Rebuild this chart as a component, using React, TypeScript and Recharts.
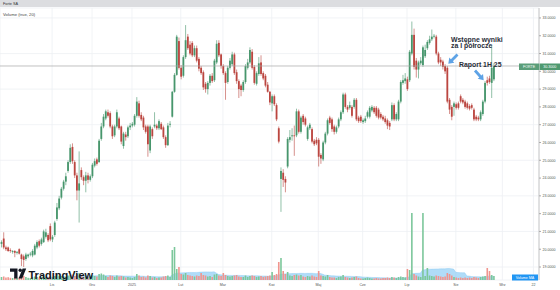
import { ComposedChart, Bar, Area, XAxis, YAxis, CartesianGrid, ReferenceLine } from 'recharts'

// daily candles [open, high, low, close], Oct 2024 – Aug 2025
const candles: [number, number, number, number][] = [
  [20.3, 20.5, 20.1, 20.4], [20.6, 20.95, 20.0, 20.1], [20.1, 20.2, 19.9, 20.0], [20.1, 20.15, 19.85, 19.9],
  [19.95, 20.05, 19.8, 19.9], [19.85, 19.95, 19.75, 19.9], [19.9, 19.95, 19.55, 19.8], [19.8, 19.9, 19.7, 19.85],
  [20.0, 20.05, 19.7, 19.75], [19.7, 19.75, 19.05, 19.45], [19.6, 19.7, 19.0, 19.4], [19.45, 19.8, 19.35, 19.7],
  [19.6, 19.75, 19.5, 19.7], [19.7, 19.85, 19.6, 19.75], [19.65, 20.0, 19.55, 19.9], [19.7, 20.3, 19.65, 20.2],
  [20.1, 20.5, 20.0, 20.4], [20.45, 20.55, 20.1, 20.2], [20.3, 20.65, 20.2, 20.55], [20.4, 21.1, 20.35, 21.0],
  [20.7, 21.15, 20.6, 20.95], [20.8, 20.9, 20.4, 20.5], [21.3, 21.45, 20.45, 20.55], [20.55, 20.8, 20.4, 20.7],
  [20.8, 21.6, 20.7, 21.5], [21.7, 22.6, 21.6, 22.35], [22.3, 23.0, 22.2, 22.85], [22.9, 23.5, 22.8, 23.4],
  [23.4, 23.9, 23.3, 23.8], [23.8, 24.3, 23.6, 24.1], [24.4, 25.0, 24.3, 24.9], [24.9, 25.9, 24.8, 25.7],
  [25.75, 25.95, 24.8, 24.95], [24.9, 25.0, 24.0, 24.15], [24.15, 24.3, 22.75, 23.3], [23.3, 25.5, 21.5, 23.7],
  [24.45, 24.6, 23.9, 24.05], [24.05, 24.15, 23.6, 23.85], [23.85, 24.35, 23.2, 24.15], [24.15, 24.3, 23.7, 23.9],
  [23.9, 24.2, 23.8, 24.1], [24.1, 24.85, 24.0, 24.75], [24.7, 25.1, 24.6, 24.95], [25.05, 25.15, 24.7, 24.8],
  [24.9, 26.2, 24.85, 26.1], [26.2, 27.1, 26.1, 26.9], [26.9, 27.6, 26.8, 27.45], [27.35, 27.85, 27.25, 27.75],
  [27.7, 27.85, 27.4, 27.5], [27.65, 27.75, 26.8, 26.9], [26.9, 27.0, 26.2, 26.35], [26.4, 27.0, 26.3, 26.9],
  [26.9, 27.85, 26.8, 27.7], [27.35, 27.45, 26.7, 26.8], [26.9, 26.95, 25.9, 26.05], [25.8, 26.6, 25.65, 26.5],
  [26.45, 26.6, 26.1, 26.3], [26.35, 26.95, 26.25, 26.85], [26.85, 27.1, 26.7, 26.95], [26.95, 27.15, 26.85, 27.05],
  [27.0, 27.6, 26.9, 27.5], [27.5, 28.55, 27.4, 28.3], [28.2, 28.35, 27.4, 27.5], [27.55, 27.7, 27.2, 27.3],
  [27.4, 27.5, 26.7, 26.85], [26.9, 27.0, 26.5, 26.6], [26.9, 27.0, 25.2, 25.9], [25.55, 27.0, 25.4, 26.9],
  [26.75, 26.85, 26.2, 26.35], [26.9, 27.7, 26.8, 27.0], [26.95, 27.05, 26.7, 26.8], [26.8, 27.3, 26.7, 27.2],
  [27.05, 27.15, 26.7, 26.75], [26.85, 26.95, 26.2, 26.3], [26.3, 26.4, 25.7, 25.85], [25.85, 27.1, 25.8, 26.95],
  [27.0, 27.2, 26.85, 27.05], [27.45, 28.9, 27.4, 28.85], [28.85, 29.9, 28.8, 29.8], [29.8, 32.05, 29.75, 31.95],
  [31.7, 31.9, 30.1, 30.2], [30.2, 30.35, 29.55, 29.7], [29.75, 30.9, 29.65, 30.8], [30.8, 32.6, 30.7, 31.75],
  [31.95, 32.1, 31.2, 31.3], [31.5, 31.7, 30.9, 31.0], [31.6, 31.7, 30.8, 30.9], [30.9, 31.45, 30.8, 31.3],
  [31.3, 31.45, 30.5, 30.6], [30.7, 30.8, 30.0, 30.15], [30.2, 30.3, 29.8, 29.9], [29.95, 30.05, 28.95, 29.1],
  [29.3, 29.4, 28.8, 29.0], [29.0, 29.45, 28.7, 29.35], [29.35, 29.85, 29.2, 29.75], [29.75, 29.9, 29.35, 29.45],
  [29.5, 30.7, 29.4, 30.6], [30.5, 31.75, 30.4, 31.55], [31.6, 31.75, 30.8, 30.9], [30.95, 31.0, 30.15, 30.3],
  [30.3, 30.4, 29.8, 29.9], [29.9, 30.0, 28.4, 29.35], [29.4, 30.3, 29.3, 30.2], [30.2, 30.75, 30.1, 30.6],
  [30.4, 31.1, 30.3, 30.95], [30.95, 31.05, 29.8, 29.9], [29.95, 30.1, 29.3, 29.45], [29.45, 29.55, 28.5, 29.0],
  [29.2, 29.3, 28.6, 28.95], [28.95, 29.5, 28.85, 29.4], [29.4, 30.4, 29.3, 30.3], [30.2, 30.7, 30.1, 30.5],
  [30.5, 31.35, 30.4, 31.2], [31.1, 31.25, 30.1, 30.2], [30.25, 30.35, 29.25, 29.35], [29.3, 30.0, 29.2, 29.9],
  [29.85, 30.8, 29.75, 30.45], [30.5, 30.9, 29.75, 29.85], [29.9, 30.0, 29.5, 29.6], [29.75, 29.85, 29.1, 29.2],
  [29.25, 29.4, 28.8, 28.85], [28.85, 28.9, 28.1, 28.25], [28.2, 28.7, 27.75, 28.6], [28.6, 28.7, 28.05, 28.15],
  [28.1, 28.2, 27.2, 27.3], [26.8, 26.9, 25.95, 26.05], [23.95, 24.6, 22.1, 24.4], [24.3, 24.5, 23.5, 23.9],
  [23.95, 24.1, 23.2, 23.75], [24.65, 26.3, 24.55, 26.2], [26.15, 26.7, 26.0, 26.3], [26.35, 26.8, 26.1, 26.4],
  [26.4, 26.95, 25.25, 26.35], [26.4, 27.9, 26.3, 27.75], [27.75, 27.85, 26.5, 26.6], [26.6, 27.5, 26.5, 27.4],
  [27.5, 27.6, 27.0, 27.15], [27.35, 27.45, 26.9, 27.0], [26.2, 26.95, 26.1, 26.85], [26.8, 27.1, 26.7, 27.0],
  [26.75, 26.85, 25.95, 26.05], [26.1, 26.2, 25.8, 25.9], [26.15, 26.3, 25.85, 25.95], [26.15, 26.25, 24.65, 25.2],
  [25.3, 25.4, 24.8, 25.1], [25.05, 26.1, 24.95, 26.0], [26.0, 26.6, 25.9, 26.5], [26.5, 27.35, 26.4, 27.25],
  [27.4, 27.5, 27.0, 27.1], [27.3, 27.4, 26.6, 26.75], [26.9, 27.0, 26.45, 26.6], [26.6, 26.95, 26.5, 26.85],
  [26.9, 27.4, 26.8, 27.3], [27.3, 27.8, 27.2, 27.7], [27.7, 28.8, 27.6, 28.7], [28.7, 28.8, 27.9, 28.0],
  [28.0, 28.1, 27.7, 27.85], [27.95, 28.3, 27.85, 28.1], [28.0, 28.1, 27.4, 27.5], [28.0, 28.5, 27.9, 28.4],
  [28.4, 28.5, 27.2, 27.3], [27.4, 27.5, 27.1, 27.2], [27.45, 27.55, 27.1, 27.2], [27.15, 27.35, 27.05, 27.25],
  [27.2, 27.5, 27.1, 27.35], [27.45, 27.8, 27.35, 27.7], [27.45, 28.05, 27.35, 27.95], [27.8, 28.1, 27.7, 28.0],
  [27.95, 28.05, 27.6, 27.7], [27.95, 28.05, 27.4, 27.5], [27.85, 27.95, 27.3, 27.4], [27.6, 27.7, 27.3, 27.4],
  [27.45, 27.55, 27.2, 27.3], [27.35, 27.5, 27.05, 27.15], [27.25, 27.35, 26.75, 26.95], [27.1, 27.2, 26.7, 26.9],
  [27.3, 28.25, 27.2, 28.1], [28.1, 28.2, 27.2, 27.3], [27.3, 27.7, 27.2, 27.6], [27.3, 28.4, 27.2, 28.3],
  [28.3, 29.5, 28.2, 29.4], [29.35, 29.8, 29.25, 29.5], [29.45, 29.9, 29.3, 29.6], [29.55, 29.7, 28.9, 29.0],
  [29.5, 31.2, 29.4, 31.1], [31.0, 32.8, 30.9, 32.05], [32.05, 32.4, 30.1, 30.25], [30.6, 30.75, 29.65, 30.1],
  [30.1, 30.6, 29.6, 30.5], [30.45, 30.8, 30.35, 30.6], [30.35, 31.45, 30.25, 31.35], [30.85, 31.5, 30.75, 31.2],
  [31.3, 31.75, 31.2, 31.65], [31.6, 32.0, 31.5, 31.8], [31.8, 32.35, 31.7, 31.95], [31.95, 32.1, 31.85, 32.0],
  [31.95, 32.05, 30.9, 31.0], [31.0, 31.1, 30.4, 30.5], [30.65, 30.8, 30.3, 30.5], [30.55, 30.65, 30.1, 30.25],
  [30.3, 30.4, 29.85, 30.0], [30.2, 30.3, 28.2, 28.3], [28.4, 28.5, 27.6, 27.85], [28.0, 28.1, 27.25, 27.45],
  [28.0, 28.3, 27.5, 28.2], [28.15, 28.25, 27.85, 27.95], [28.2, 28.3, 27.85, 27.95], [28.6, 28.7, 28.2, 28.3],
  [28.4, 28.5, 28.15, 28.25], [28.3, 28.4, 27.9, 28.0], [28.2, 28.3, 27.85, 27.95], [28.05, 28.15, 27.8, 27.9],
  [28.1, 28.2, 27.85, 27.95], [27.85, 27.95, 27.2, 27.3], [27.45, 27.55, 27.2, 27.3], [27.4, 27.5, 27.2, 27.3],
  [27.3, 27.8, 27.2, 27.7], [27.6, 28.4, 27.5, 28.3], [28.3, 29.45, 28.2, 29.35], [29.5, 29.7, 29.2, 29.35],
  [29.6, 29.75, 29.3, 29.4], [29.35, 31.45, 28.5, 30.2], [29.55, 30.45, 29.45, 30.3],
]

// volume, thousands of shares
const volumes = [
  30, 35, 25, 28, 22, 20, 30, 22, 25, 35,
  40, 30, 22, 20, 28, 35, 30, 25, 30, 40,
  30, 28, 45, 25, 40, 50, 45, 40, 35, 30,
  45, 50, 55, 40, 60, 70, 40, 30, 35, 28,
  30, 45, 40, 35, 60, 65, 55, 40, 30, 45,
  40, 30, 45, 35, 40, 35, 25, 30, 25, 20,
  30, 60, 45, 30, 35, 25, 45, 40, 25, 30,
  20, 25, 25, 35, 40, 45, 30, 300, 330, 110,
  130, 60, 55, 70, 50, 45, 40, 35, 45, 40,
  70, 50, 45, 35, 40, 30, 55, 60, 45, 40,
  70, 50, 40, 35, 40, 45, 50, 35, 30, 30,
  45, 30, 40, 45, 40, 30, 35, 40, 30, 35,
  40, 45, 80, 50, 60, 180, 220, 90, 60, 80,
  45, 40, 50, 55, 45, 50, 35, 30, 40, 35,
  45, 35, 30, 90, 45, 40, 35, 50, 30, 25,
  25, 20, 30, 35, 50, 30, 25, 20, 25, 30,
  35, 20, 15, 15, 20, 25, 20, 15, 15, 20,
  15, 15, 20, 20, 25, 20, 30, 25, 20, 30,
  35, 30, 25, 110, 100, 670, 60, 45, 35, 30,
  670, 40, 120, 45, 40, 35, 45, 40, 35, 30,
  35, 70, 60, 45, 30, 25, 20, 25, 20, 25,
  20, 25, 20, 30, 25, 20, 30, 35, 40, 120,
  90, 50, 40,
]

const monthTicks = [23, 41, 59, 81, 100, 122, 143, 163, 183, 205, 226, 240]
const monthNames = ['Lis', 'Gru', '2025', 'Lut', 'Mar', 'Kwi', 'Maj', 'Cze', 'Lip', 'Sie', 'Wrz', '22']
const priceTicks = [19, 20, 21, 22, 23, 24, 25, 26, 27, 28, 29, 30, 31, 32, 33]
const lastPrice = 30.3
const SLOTS = 243
const MA_LEN = 20

const GREEN = '#47966c'
const RED = '#bb4640'
const FONT = '"Liberation Sans", Arial, sans-serif'

const rows = Array.from({ length: SLOTS }, (_, i) => {
  const k = candles[i]
  if (!k) return { i, range: null, vol: null, ma: null }
  const [o, h, l, c] = k
  let ma: number | null = null
  if (i >= MA_LEN - 1) {
    let s = 0
    for (let j = i - MA_LEN + 1; j <= i; j++) s += volumes[j]
    ma = s / MA_LEN
  }
  return { i, o, h, l, c, range: [l, h], vol: volumes[i], ma }
})

const Candle = (props: any) => {
  const { x, y, width, height, payload } = props
  if (!payload || payload.o == null) return null
  const { o, h, l, c } = payload
  const top = Math.min(y, y + height)
  const hh = Math.abs(height)
  const span = h - l || 1
  const py = (v: number) => top + ((h - v) / span) * hh
  const cx = x + width / 2
  const color = c >= o ? GREEN : RED
  const bTop = py(Math.max(o, c))
  const bH = Math.max(py(Math.min(o, c)) - bTop, 0.7)
  return (
    <g>
      <line x1={cx} x2={cx} y1={top} y2={top + hh} stroke={color} strokeWidth={0.6} />
      <rect x={cx - 0.9} y={bTop} width={1.8} height={bH} fill={color} />
    </g>
  )
}

const VolBar = (props: any) => {
  const { x, y, width, height, payload } = props
  if (!payload || payload.o == null) return null
  const up = payload.c >= payload.o
  const top = Math.min(y, y + height)
  return <rect x={x + width / 2 - 0.8} y={top} width={1.6} height={Math.abs(height)} fill={up ? '#7cc79b' : '#f0958e'} />
}

function Arrow({ x, y, angle }: { x: number; y: number; angle: number }) {
  return (
    <g transform={`translate(${x},${y}) rotate(${angle})`}>
      <polygon points="0,-1.4 8,-1.4 8,-3.6 13,0 8,3.6 8,1.4 0,1.4" fill="#5ea3e6" />
    </g>
  )
}

export default function App() {
  return (
    <div style={{ position: 'absolute', left: 0, top: 0, width: 560, height: 290, background: '#fff', fontFamily: FONT }}>
      <ComposedChart width={560} height={290} data={rows} margin={{ top: 8, right: 0, bottom: 0, left: 0 }}>
        <CartesianGrid stroke="#eef0f4" strokeWidth={0.8} />
        <XAxis
          dataKey="i"
          type="category"
          ticks={monthTicks}
          interval={0}
          height={10}
          tickFormatter={(v) => monthNames[monthTicks.indexOf(v)] ?? ''}
          axisLine={false}
          tickLine={false}
          tickSize={0}
          tickMargin={3.5}
          tick={{ fontSize: 3.6, fill: '#555', fontFamily: FONT }}
        />
        <XAxis xAxisId="v" dataKey="i" type="category" hide />
        <YAxis
          orientation="right"
          domain={[18.27, 33.56]}
          ticks={priceTicks}
          allowDataOverflow
          width={21}
          tickFormatter={(v) => Number(v).toFixed(4)}
          axisLine={{ stroke: '#c8c8c8' }}
          tickLine={{ stroke: '#aaa' }}
          tickSize={2}
          tickMargin={1.5}
          tick={{ fontSize: 3.6, fill: '#555', fontFamily: FONT }}
        />
        <YAxis yAxisId="v" hide domain={[0, 2720]} />
        <Bar xAxisId="v" yAxisId="v" dataKey="vol" barSize={1} shape={VolBar} isAnimationActive={false} />
        <Area
          xAxisId="v"
          yAxisId="v"
          dataKey="ma"
          type="linear"
          stroke="#80c4f0"
          strokeWidth={0.4}
          fill="#8fcdf5"
          fillOpacity={0.7}
          dot={false}
          activeDot={false}
          isAnimationActive={false}
        />
        <ReferenceLine y={lastPrice} stroke="#a6a6a6" strokeWidth={0.7} />
        <Bar dataKey="range" barSize={1} shape={Candle} isAnimationActive={false} />
      </ComposedChart>
      <svg width={560} height={290} style={{ position: 'absolute', left: 0, top: 0, pointerEvents: 'none' }}>
        <rect x={0} y={0} width={560} height={7} fill="#dcdde0" />
        <text x={3} y={5.2} fontSize={3.8} fill="#333" fontFamily={FONT}>Forte SA</text>
        <text x={3} y={16} fontSize={4.2} fill="#444" fontFamily={FONT}>Volume (true, 20)</text>

        <text x={451} y={41.5} fontSize={6.9} fontWeight="bold" fill="#2a2e39" fontFamily={FONT}>Wstępne wyniki</text>
        <text x={451} y={48} fontSize={6.9} fontWeight="bold" fill="#2a2e39" fontFamily={FONT}>za I półrocze</text>
        <text x={459} y={66.5} fontSize={6.9} fontWeight="bold" fill="#2a2e39" fontFamily={FONT}>Raport 1H 25</text>
        <Arrow x={457.5} y={54.5} angle={135} />
        <Arrow x={475} y={70.5} angle={48} />

        <rect x={519} y={63.5} width={20} height={6.5} fill="#5a9e79" />
        <text x={529} y={68.2} fontSize={3.6} fill="#fff" textAnchor="middle" fontFamily={FONT}>FORTE</text>
        <rect x={539.5} y={63.5} width={20.5} height={6.5} fill="#4f9a70" />
        <text x={549.7} y={68.2} fontSize={3.6} fill="#fff" textAnchor="middle" fontFamily={FONT}>30.3000</text>

        <rect x={512} y={274.5} width={26} height={6} fill="#2196f3" />
        <text x={525} y={278.8} fontSize={3.6} fill="#fff" textAnchor="middle" fontFamily={FONT}>Volume MA</text>

        <g transform="translate(10,268.5)">
          <path d="M0,0 H7.5 V10 H4.2 V3.2 H0 Z" fill="#131722" />
          <circle cx={10.2} cy={1.7} r={1.7} fill="#131722" />
          <path d="M12.6,0 H16.2 L12.2,10 H8.6 Z" fill="#131722" />
        </g>
        <text x={28.5} y={278.5} fontSize={11} fontWeight="bold" fill="#131722" fontFamily={FONT}>TradingView</text>
      </svg>
    </div>
  )
}
